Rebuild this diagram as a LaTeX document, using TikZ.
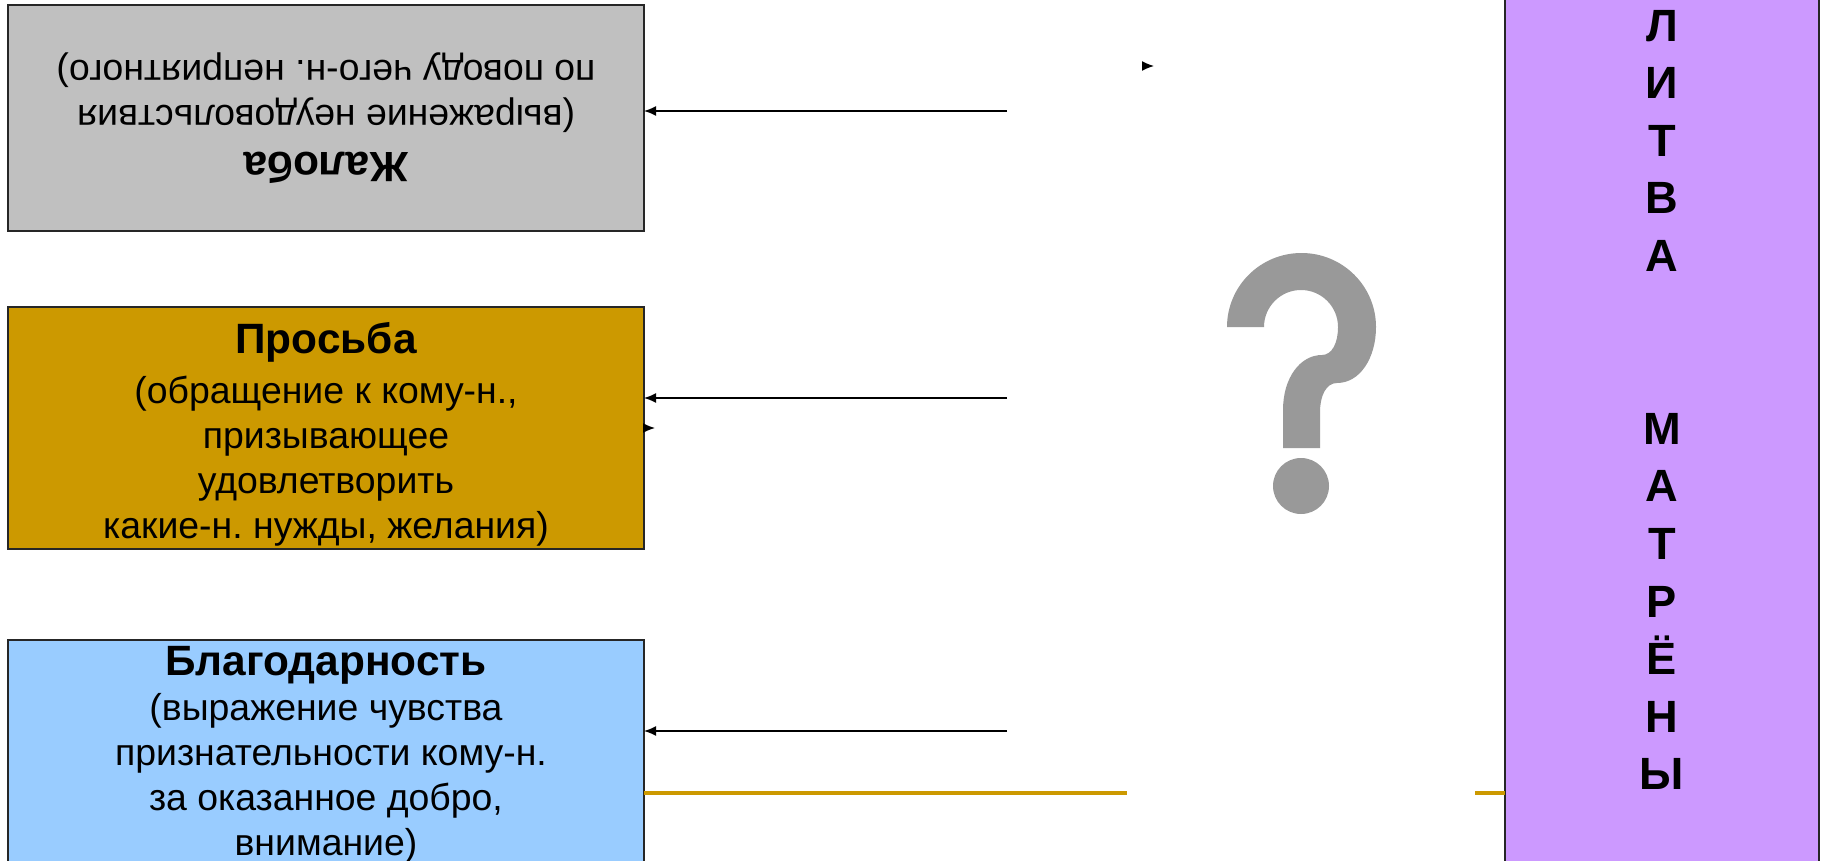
\documentclass[tikz,border=0pt]{standalone}
\usepackage{fontspec}
\setmainfont{Liberation Sans}
\usetikzlibrary{arrows.meta}
\frenchspacing
\newcommand{\ttl}[1]{{\fontsize{21.2}{24}\selectfont\bfseries #1}}
\tikzstyle{genre} = [draw=black!85, rectangle, line width=0.75pt, align=center, outer sep=0pt, inner ysep=0pt,
minimum width=318pt, font=\fontsize{18.7}{22.5}\selectfont]
\tikzstyle{prayer} = [draw=black!85, fill=prayercol, rectangle, line width=0.75pt, align=center, outer sep=0pt,
minimum width=157pt, minimum height=480pt, font=\fontsize{22.6}{28.8}\selectfont\bfseries]
\tikzstyle{link} = [line width=0.75pt]
\tikzstyle{goldline} = [draw=goldcol, line width=2pt]
\definecolor{greycol}{HTML}{C0C0C0}
\definecolor{goldcol}{HTML}{CC9900}
\definecolor{bluecol}{HTML}{99CCFF}
\definecolor{prayercol}{HTML}{CC99FF}
\definecolor{quescol}{HTML}{999999}
\begin{document}
\begin{tikzpicture}[x=0.5pt, y=-0.5pt, >={Latex[length=6pt,width=5pt]}]
\useasboundingbox (0,0) rectangle (1824,861);

\node [genre, fill=greycol, minimum height=113pt, rotate=180] (complaint) at (326,118)
{\ttl{Жалоба}\\[1pt](выражение неудовольствия\\по поводу чего-н. неприятного)};
\node [genre, fill=goldcol, minimum height=121pt] (request) at (326,428)
{\rule{0pt}{22pt}\ttl{Просьба}\\[2.5pt](обращение к кому-н.,\\призывающее\\удовлетворить\\какие-н. нужды, желания)};
\node [genre, fill=bluecol, minimum height=115pt] (thanks) at (326,755)
{\ttl{Благодарность}\\(выражение чувства\\\hspace*{5pt}признательности кому-н.\\за оказанное добро,\\внимание)};
\node [prayer] (prayer) at (1662,400)
{Л\\И\\Т\\В\\А\\ \\ \\М\\А\\Т\\Р\\Ё\\Н\\Ы};

\coordinate (from1) at (1007,111);
\coordinate (from2) at (1007,398);
\coordinate (from3) at (1007,731);
\draw [link,->] (from1) -- (complaint.west |- from1);
\draw [link,->] (from2) -- (request.east |- from2);
\draw [link,->] (from3) -- (thanks.east |- from3);

% stray arrow tips
\coordinate (tip1a) at (1142,66);
\coordinate (tip1b) at (1154,66);
\coordinate (tip2a) at (643,428);
\coordinate (tip2b) at (655,428);
\draw [link,->] (tip1a) -- (tip1b);
\draw [link,->] (tip2a) -- (tip2b);

\coordinate (gold1) at (1127,793);
\coordinate (gold2) at (1475,793);
\draw [goldline] (thanks.east |- gold1) -- (gold1);
\draw [goldline] (gold2) -- (prayer.west |- gold2);

% question mark
\fill [quescol] (1227,327) arc [start angle=180, end angle=360, x radius=74.5, y radius=74]
.. controls (1376,358) and (1360,383) .. (1337,383)
.. controls (1326,383) and (1320,396) .. (1320,412)
-- (1320,448) -- (1283,448) -- (1283,410)
.. controls (1283,378) and (1300,355) .. (1322,355)
.. controls (1332,355) and (1338,343) .. (1338,327)
arc [start angle=0, end angle=-180, x radius=37, y radius=37]
-- cycle;
\fill [quescol] (1301,486) circle [radius=28];
\end{tikzpicture}
\end{document}
